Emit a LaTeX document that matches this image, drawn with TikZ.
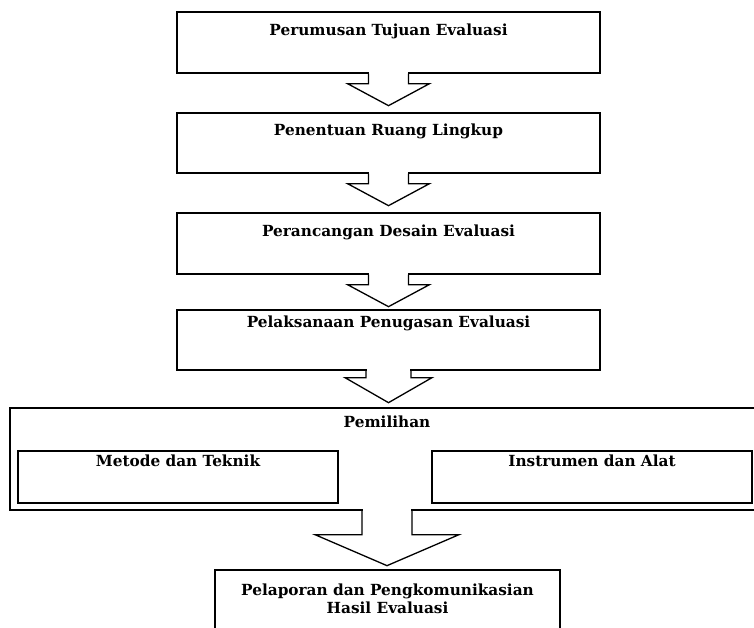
\documentclass[tikz,border=0pt]{standalone}
\usepackage{fontspec}
\setmainfont{DejaVu Serif}
\usetikzlibrary{calc}
\tikzset{
  box/.style={draw=black, line width=1.3pt, fill=none, inner sep=0pt},
  lbl/.style={font=\fontsize{15.3}{17.5}\selectfont\bfseries, inner sep=0pt, align=center},
  arr/.style={draw=black, line width=1.3pt, line join=miter},
}
% #1 from node anchor, #2 stem half width, #3 wing half width, #4 stem length, #5 tip distance
\newcommand\flowarrow[5]{%
  \fill[white] ($(#1)+(-#2+0.8,-1.5)$) rectangle ($(#1)+(#2-0.8,1.5)$);
  \draw[arr] ($(#1)+(-#2,0)$) -- ($(#1)+(-#2,#4)$) -- ($(#1)+(-#3,#4)$) -- ($(#1)+(0,#5)$)
    -- ($(#1)+(#3,#4)$) -- ($(#1)+(#2,#4)$) -- ($(#1)+(#2,0)$);
}
\begin{document}
\begin{tikzpicture}[x=1pt,y=-1pt]
\useasboundingbox[fill=white] (0,0) rectangle (754,627);
% main boxes
\node[box, minimum width=423pt, minimum height=61pt] (b1) at (388.5,42.5) {};
\node[box, minimum width=423pt, minimum height=60pt] (b2) at (388.5,143) {};
\node[box, minimum width=423pt, minimum height=61pt] (b3) at (388.5,243.5) {};
\node[box, minimum width=423pt, minimum height=60pt] (b4) at (388.5,340) {};
\node[box, minimum width=754pt, minimum height=102pt] (b5) at (387,459) {};
\node[box, minimum width=320pt, minimum height=52pt] (b6) at (178,477) {};
\node[box, minimum width=320pt, minimum height=52pt] (b7) at (592,477) {};
\node[box, minimum width=345pt, minimum height=80pt] (b8) at (387.5,610) {};
% texts
\node[lbl] (t1) at (388.5,31) {Perumusan Tujuan Evaluasi};
\node[lbl] (t2) at (388.5,131) {Penentuan Ruang Lingkup};
\node[lbl] (t3) at (388.5,232) {Perancangan Desain Evaluasi};
\node[lbl] (t4) at (388.5,323) {Pelaksanaan Penugasan Evaluasi};
\node[lbl] (t5) at (387,422) {Pemilihan};
\node[lbl] (t6) at (178,461) {Metode dan Teknik};
\node[lbl] (t7) at (592,461) {Instrumen dan Alat};
\node[lbl] (t8) at (387.5,599) {Pelaporan dan Pengkomunikasian\\Hasil Evaluasi};
% arrows
\flowarrow{b1.south}{20}{41}{10}{32}
\flowarrow{b2.south}{20}{41}{10}{32}
\flowarrow{b3.south}{20}{41}{10}{32}
\flowarrow{b4.south}{22.5}{43.5}{7}{32}
\flowarrow{b5.south}{25}{72}{24}{55}
\end{tikzpicture}
\end{document}
